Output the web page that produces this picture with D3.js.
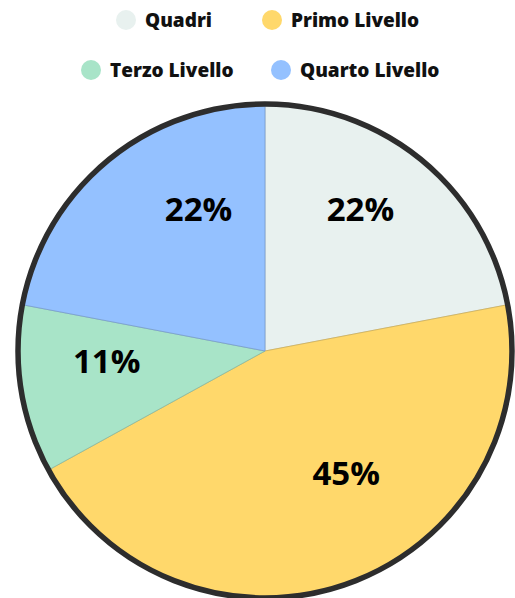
<!DOCTYPE html>
<html>
<head>
<meta charset="utf-8">
<script src="https://cdn.jsdelivr.net/npm/d3@7"></script>
<style>
  html, body { margin: 0; padding: 0; background: #fff; }
  svg { display: block; }
</style>
</head>
<body>
<script>
// chart data
var categories = ['Quadri', 'Primo Livello', 'Terzo Livello', 'Quarto Livello'];
var values     = [22, 45, 11, 22];
var colors     = ['#e8f1ef', '#ffd86b', '#a8e4c8', '#94c1ff'];

var width = 515, height = 598;
var cx = 265, cy = 351, r = 247;

var svg = d3.select('body').append('svg')
    .attr('width', width)
    .attr('height', height);

// legend, two rows
var legendRows = [
    [{i: 0, x: 126}, {i: 1, x: 272}],
    [{i: 2, x: 91},  {i: 3, x: 281}]
];
legendRows.forEach(function(row, ri){
    var y = 20 + ri * 50;
    row.forEach(function(item){
        var g = svg.append('g').attr('transform', 'translate(' + item.x + ',' + y + ')');
        g.append('circle').attr('r', 10).attr('fill', colors[item.i]);
        g.append('text')
            .attr('x', 19)
            .attr('dy', '0.35em')
            .attr('font-family', 'Open Sans')
            .attr('font-weight', 800)
            .attr('font-size', 19)
            .attr('fill', '#111')
            .text(categories[item.i]);
    });
});

var pie = d3.pie().sort(null).value(function(d){ return d; });
var arc = d3.arc().innerRadius(0).outerRadius(r);
var labelArc = d3.arc().innerRadius(r * 0.6).outerRadius(r * 0.6);

var arcs = pie(values);
var chart = svg.append('g').attr('transform', 'translate(' + cx + ',' + cy + ')');

chart.selectAll('path.slice')
    .data(arcs)
    .enter().append('path')
    .attr('class', 'slice')
    .attr('d', arc)
    .attr('fill', function(d, i){ return colors[i]; })
    .attr('stroke', function(d, i){ return d3.color(colors[i]).darker(0.6); })
    .attr('stroke-width', 0.8);

chart.append('circle')
    .attr('r', r)
    .attr('fill', 'none')
    .attr('stroke', '#2d2d2d')
    .attr('stroke-width', 5.5);

// small nudges so labels sit where the original tool placed them
var nudge = [[1, -28], [31, -17], [-12, -13], [28, -28]];
chart.selectAll('text.pct')
    .data(arcs)
    .enter().append('text')
    .attr('class', 'pct')
    .attr('transform', function(d, i){
        var c = labelArc.centroid(d);
        return 'translate(' + (c[0] + nudge[i][0]) + ',' + (c[1] + nudge[i][1]) + ')';
    })
    .attr('text-anchor', 'middle')
    .attr('dy', '0.36em')
    .attr('font-family', 'Open Sans')
    .attr('font-weight', 700)
    .attr('font-size', 33)
    .attr('fill', '#000')
    .text(function(d){ return d.data + '%'; });
</script>
</body>
</html>
